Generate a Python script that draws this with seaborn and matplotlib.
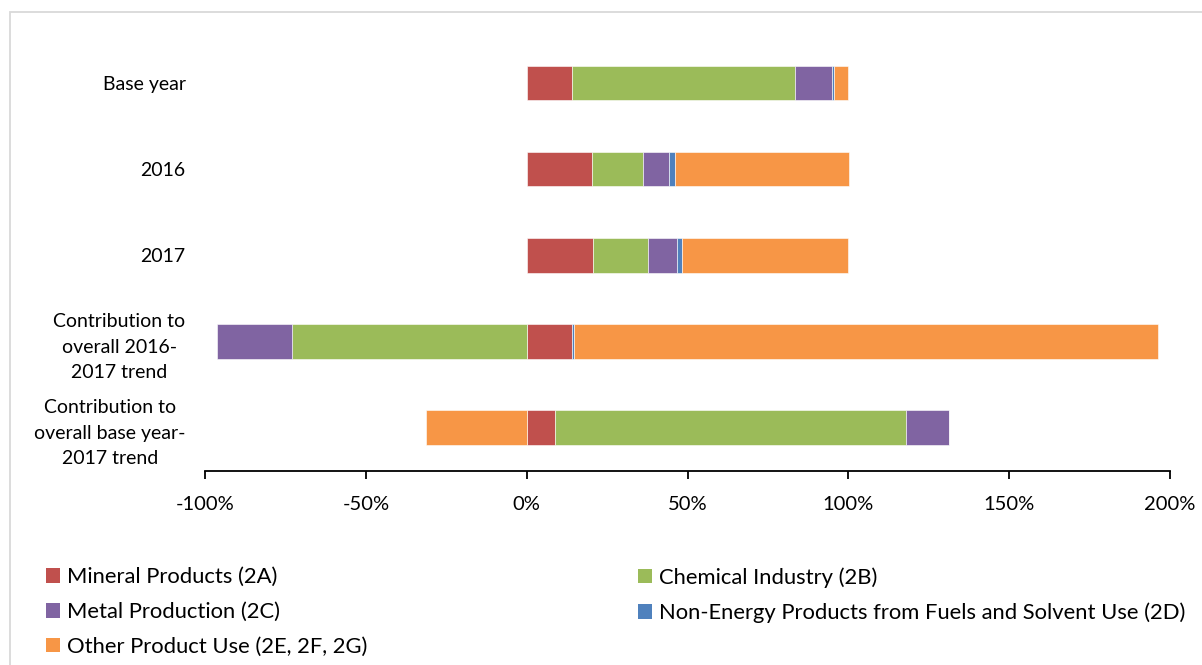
import numpy as np
import matplotlib
matplotlib.use("Agg")
import matplotlib.pyplot as plt
from matplotlib.patches import Patch, Rectangle
from matplotlib.ticker import FuncFormatter
import seaborn as sns

# Share of industrial-process emissions by sub-category (%)
categories = [
    "Base year",
    "2016",
    "2017",
    "Contribution to\noverall 2016-\n2017 trend",
    "Contribution to\noverall base year-\n2017 trend",
]
series_names = [
    "Mineral Products (2A)",
    "Chemical Industry (2B)",
    "Metal Production (2C)",
    "Non-Energy Products from Fuels and Solvent Use (2D)",
    "Other Product Use (2E, 2F, 2G)",
]
mineral = [14.0, 20.3, 20.6, 14.2, 8.9]
chemical = [69.3, 15.8, 17.2, -73.1, 108.9]
metal = [11.6, 8.2, 8.9, -23.1, 13.6]
non_energy = [0.7, 1.9, 1.7, 0.5, 0.0]
other = [4.4, 53.9, 51.6, 181.5, -31.4]
x_ticks = [-100, -50, 0, 50, 100, 150, 200]

colors = ["#C0504D", "#9BBB59", "#8064A2", "#4F81BD", "#F79646"]

sns.set_theme(style="white")
plt.rcParams["font.family"] = ["Lato", "DejaVu Sans"]

fig = plt.figure(figsize=(12.02, 6.65), dpi=100)
ax = fig.add_axes([205 / 1202, 1 - 470.7 / 665, (1170 - 205) / 1202, (470.7 - 40) / 665])

values = [mineral, chemical, metal, non_energy, other]
pos_base = np.zeros(len(categories))
neg_base = np.zeros(len(categories))
ypos = np.arange(len(categories))
for name, vals, col in zip(series_names, values, colors):
    vals = np.asarray(vals, dtype=float)
    left = np.where(vals >= 0, pos_base, neg_base)
    ax.barh(ypos, vals, left=left, height=0.4, color=col,
            edgecolor="#FFFFFF", linewidth=0.4, label=name)
    pos_base = pos_base + np.where(vals >= 0, vals, 0)
    neg_base = neg_base + np.where(vals < 0, vals, 0)

ax.set_ylim(len(categories) - 0.5, -0.5)
ax.set_xlim(x_ticks[0], x_ticks[-1])
ax.set_yticks(ypos)
ax.set_yticklabels(categories, fontsize=14.0, ha="right", multialignment="center",
                   linespacing=1.6)
ax.tick_params(axis="y", length=0, pad=14)
ax.set_xticks(x_ticks)
ax.xaxis.set_major_formatter(FuncFormatter(lambda v, p: f"{int(round(v))}%"))
ax.tick_params(axis="x", direction="out", length=6, width=1.3, color="#000000",
               labelsize=14.5, pad=12, bottom=True)
for lab in ax.get_yticklabels() + ax.get_xticklabels():
    lab.set_color("#000000")

for side in ["top", "right", "left"]:
    ax.spines[side].set_visible(False)
ax.spines["bottom"].set_color("#000000")
ax.spines["bottom"].set_linewidth(1.3)
ax.grid(False)

# Legend laid out in two columns
handles = [Patch(facecolor=c, edgecolor="none") for c in colors]
leg_kw = dict(frameon=False, fontsize=15.8, handlelength=0.65, handleheight=0.65,
              handletextpad=0.3, labelspacing=0.68, borderpad=0, borderaxespad=0)
leg1 = fig.legend([handles[0], handles[2], handles[4]],
                  [series_names[0], series_names[2], series_names[4]],
                  loc="upper left", bbox_to_anchor=(46 / 1202, 1 - 567 / 665), **leg_kw)
leg2 = fig.legend([handles[1], handles[3]],
                  [series_names[1], series_names[3]],
                  loc="upper left", bbox_to_anchor=(638 / 1202, 1 - 567 / 665), **leg_kw)
for leg in (leg1, leg2):
    for t in leg.get_texts():
        t.set_color("#000000")

# Chart frame
fig.add_artist(Rectangle((10 / 1202, -0.05), 1.2, 1 - 12 / 665 + 0.05,
                         transform=fig.transFigure, fill=False,
                         edgecolor="#D9D9D9", linewidth=1.3))

fig.savefig("out.png", dpi=100, facecolor="white")
